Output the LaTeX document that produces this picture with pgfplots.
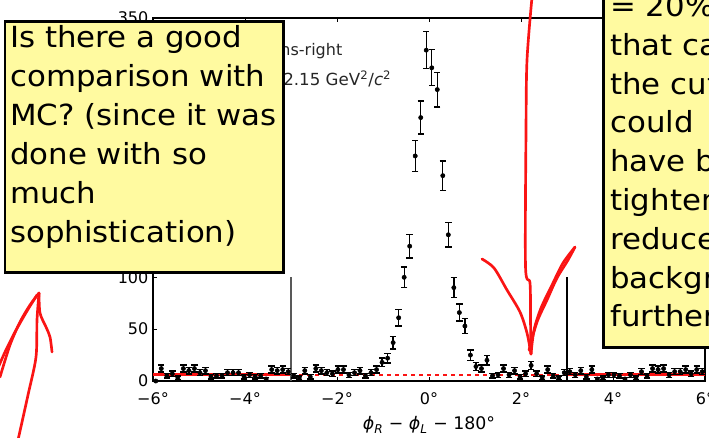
\documentclass[border=0pt]{standalone}
\usepackage{fontspec}
\setmainfont{DejaVu Sans}
\newfontfamily\notefont[FakeStretch=1.06]{DejaVu Sans}
\usepackage{pgfplots}
\pgfplotsset{compat=1.18}
\usepackage{pgfplotstable}
\definecolor{note}{RGB}{255,250,160}
\definecolor{pen}{RGB}{250,20,20}

% counts per 0.12 deg bin
\pgfplotstableread{
x n
-5.94 0
-5.82 12
-5.70 5
-5.58 7
-5.46 3
-5.34 12
-5.22 10
-5.10 12
-4.98 8
-4.86 10
-4.74 4
-4.62 5
-4.50 5
-4.38 8
-4.26 8
-4.14 8
-4.02 4
-3.90 6
-3.78 4
-3.66 5
-3.54 2
-3.42 11
-3.30 10
-3.18 11
-3.06 9
-2.94 5
-2.82 3
-2.70 10
-2.58 4
-2.46 12
-2.34 10
-2.22 8
-2.10 7
-1.98 11
-1.86 11
-1.74 6
-1.62 8
-1.50 10
-1.38 5
-1.26 8
-1.14 11
-1.02 18
-0.90 22
-0.78 37
-0.66 61
-0.54 100
-0.42 130
-0.30 217
-0.18 254
-0.06 319
0.06 302
0.18 281
0.30 198
0.42 141
0.54 90
0.66 66
0.78 53
0.90 25
1.02 14
1.14 12
1.26 20
1.38 5
1.50 6
1.62 12
1.74 6
1.86 10
1.98 4
2.10 7
2.22 15
2.34 7
2.46 3
2.58 11
2.70 5
2.82 3
2.94 8
3.06 9
3.18 6
3.30 10
3.42 4
3.54 11
3.66 2
3.78 3
3.90 6
4.02 6
4.14 5
4.26 2
4.38 6
4.50 3
4.62 9
4.74 5
4.86 12
4.98 11
5.10 12
5.22 6
5.34 9
5.46 9
5.58 11
5.70 7
5.82 11
5.94 9
}\phidata

\begin{document}
\begin{tikzpicture}
\useasboundingbox (0pt,0pt) rectangle (531.75pt,-327.75pt);
\clip (0pt,0pt) rectangle (531.75pt,-327.75pt);
\begin{axis}[
    at={(114.75pt,-285.75pt)}, anchor=south west,
    scale only axis, width=414pt, height=272.25pt,
    xmin=-6, xmax=6, ymin=0, ymax=350,
    xtick={-6,-4,...,6},
    xticklabels={−6°,−4°,−2°,0°,2°,4°,6°},
    ytick={0,50,...,350},
    tick align=inside,
    major tick length=3pt,
    tick style={black, line width=0.6pt},
    axis line style={line width=0.9pt},
    ticklabel style={font=\fontsize{12}{14}\selectfont},
    xticklabel style={anchor=base, yshift=-17.5pt},
    /pgf/number format/assume math mode=true,
    xlabel={{\itshape ϕ}\textsubscript{\itshape R} − {\itshape ϕ}\textsubscript{\itshape L} − 180°},
    xlabel style={font=\fontsize{13}{15}\selectfont,
        at={(axis description cs:0.5,0)}, anchor=base, yshift=-36.5pt},
    ]
% background fit
\addplot[pen, line width=2.2pt] coordinates {(-6,6) (-3,6)};
\addplot[pen, line width=1.5pt, dash pattern=on 3pt off 3pt] coordinates {(-3,6) (3,6)};
\addplot[pen, line width=2.2pt] coordinates {(3,6) (6,6)};
% cut window
\addplot[black!65, line width=0.8pt] coordinates {(-3,0) (-3,100)};
\addplot[black, line width=0.8pt] coordinates {(3,0) (3,100)};
% data
\addplot[black, only marks, mark=*, mark size=1.6pt,
    error bars/.cd, y dir=both, y explicit,
    error mark options={rotate=90, black, line width=1pt, mark size=2.4pt},
    error bar style={line width=1pt}]
    table[x=x, y=n, y error expr=sqrt(\thisrow{n})] {\phidata};
\end{axis}

\begin{scope}[x=0.75pt, y=-0.75pt]
% partly hidden legend text
\node[anchor=base east, text=black!85, font=\fontsize{12}{14}\selectfont] at (347,55) {Muons-right};
\node[anchor=base east, text=black!85, font=\fontsize{12.5}{14}\selectfont] at (396,85) {$Q^2$ > 2.15 GeV\textsuperscript{2}/{\itshape c}\textsuperscript{2}};

% sticky notes
\filldraw[fill=note, draw=black, line width=2pt] (5,21.5) rectangle (283.5,272.5);
\foreach \t [count=\i] in {Is there a good, comparison with, MC? (since it was, done with so, much, sophistication)}
  \node[anchor=base west, inner sep=0pt, font=\notefont\fontsize{21.8}{26}\selectfont] at (10,{47+39*(\i-1)}) {\t};

\filldraw[fill=note, draw=black, line width=2pt] (603.5,-20) rectangle (780,347.5);
\foreach \t [count=\i] in {= 20\%, that can, the cut, could, have been, tightened, reduce the, background, further.}
  \node[anchor=base west, inner sep=0pt, font=\notefont\fontsize{21.8}{26}\selectfont] at (610,{16.5+38.8*(\i-1)}) {\t};

% pen marks
\begin{scope}[pen, line width=2pt, line cap=round, line join=round]
\draw plot[smooth] coordinates {(532,-3) (527,60) (526,130) (525.5,266) (530,283) (530.5,320) (531,354)};
\draw plot[smooth] coordinates {(482,259) (494,268) (507,290) (520,312) (527,333) (531,354)};
\draw plot[smooth] coordinates {(531,354) (534,330) (541,308) (552,285) (563,263) (575,247)};
\draw plot[smooth] coordinates {(529,350) (537,322) (547,300) (557,278) (568,260) (575,247)};
\draw plot[smooth] coordinates {(18,440) (28,395) (36,357) (37,320) (39,293)};
\draw plot[smooth] coordinates {(39,293) (30,305) (20,322) (10,345) (0,377)};
\draw plot[smooth] coordinates {(37,295) (27,311) (15,332) (5,352) (-2,368)};
\draw plot[smooth] coordinates {(39,293) (40,313) (46,327) (50,337) (52,352)};
\end{scope}
\end{scope}
\end{tikzpicture}
\end{document}
